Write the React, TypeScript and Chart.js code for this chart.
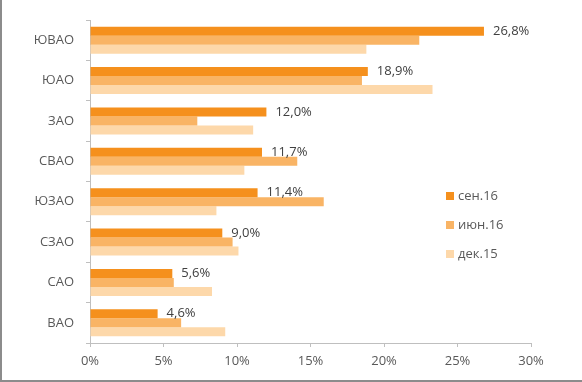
import React, { useEffect, useRef } from "react";
import { Chart, registerables } from "chart.js";

Chart.register(...registerables);

const categories = ["ЮВАО", "ЮАО", "ЗАО", "СВАО", "ЮЗАО", "СЗАО", "САО", "ВАО"];
const seriesLabels = ["сен.16", "июн.16", "дек.15"];
const sep16 = [26.8, 18.9, 12.0, 11.7, 11.4, 9.0, 5.6, 4.6];
const jun16 = [22.4, 18.5, 7.3, 14.1, 15.9, 9.7, 5.7, 6.2];
const dec15 = [18.8, 23.3, 11.1, 10.5, 8.6, 10.1, 8.3, 9.2];
const seriesColors = ["#F5901D", "#F9B465", "#FDD8AA"];

const FONT = "'Open Sans', 'DejaVu Sans', sans-serif";
const TEXT = "#595959";
const AXIS = "#BFBFBF";

const framePlugin = {
  id: "frame",
  beforeDraw(chart: any) {
    const ctx = chart.ctx;
    ctx.save();
    ctx.fillStyle = "#ffffff";
    ctx.fillRect(0, 0, chart.width, chart.height);
    ctx.fillStyle = "#8C8C8C";
    ctx.fillRect(0, 0, 2, chart.height);
    ctx.fillRect(0, chart.height - 2, chart.width, 2);
    ctx.restore();
  },
};

const labelsPlugin = {
  id: "valueLabels",
  afterDatasetsDraw(chart: any) {
    const ctx = chart.ctx;
    const meta = chart.getDatasetMeta(0);
    const data = chart.data.datasets[0].data as number[];
    ctx.save();
    ctx.font = `13px ${FONT}`;
    ctx.fillStyle = "#404040";
    ctx.textAlign = "left";
    ctx.textBaseline = "middle";
    meta.data.forEach((bar: any, i: number) => {
      const txt = data[i].toFixed(1).replace(".", ",") + "%";
      ctx.fillText(txt, bar.x + 9, bar.y);
    });
    ctx.restore();
  },
};

const legendPlugin = {
  id: "customLegend",
  afterDraw(chart: any) {
    const ctx = chart.ctx;
    const x = 446;
    const y0 = 196;
    const step = 29;
    ctx.save();
    ctx.font = `13px ${FONT}`;
    ctx.textAlign = "left";
    ctx.textBaseline = "middle";
    chart.data.datasets.forEach((ds: any, i: number) => {
      const y = y0 + i * step;
      ctx.fillStyle = ds.backgroundColor;
      ctx.fillRect(x, y - 4, 8, 8);
      ctx.fillStyle = TEXT;
      ctx.fillText(ds.label, x + 12, y);
    });
    ctx.restore();
  },
};

export default function App() {
  const ref = useRef<HTMLCanvasElement | null>(null);
  useEffect(() => {
    if (!ref.current) return;
    const chart = new Chart(ref.current, {
      type: "bar",
      data: {
        labels: categories,
        datasets: [
          { label: seriesLabels[0], data: sep16, backgroundColor: seriesColors[0] },
          { label: seriesLabels[1], data: jun16, backgroundColor: seriesColors[1] },
          { label: seriesLabels[2], data: dec15, backgroundColor: seriesColors[2] },
        ],
      },
      options: {
        indexAxis: "y",
        responsive: false,
        animation: false,
        devicePixelRatio: 1,
        layout: { padding: { top: 20, right: 51, left: 0, bottom: 0 } },
        datasets: { bar: { categoryPercentage: 0.67, barPercentage: 1.0 } },
        plugins: { legend: { display: false }, tooltip: { enabled: false } },
        scales: {
          x: {
            min: 0,
            max: 30,
            ticks: {
              stepSize: 5,
              callback: (v: any) => `${v}%`,
              color: TEXT,
              font: { family: FONT, size: 13 },
              padding: 6,
            },
            grid: { drawOnChartArea: false, drawTicks: true, tickLength: 4, color: AXIS },
            border: { display: true, color: AXIS },
            afterFit: (s: any) => {
              s.height = 39;
            },
          },
          y: {
            ticks: {
              color: TEXT,
              font: { family: FONT, size: 13 },
              padding: 12,
            },
            grid: { drawOnChartArea: false, drawTicks: true, tickLength: 4, color: AXIS },
            border: { display: true, color: AXIS },
            afterFit: (s: any) => {
              s.width = 90;
            },
          },
        },
      } as any,
      plugins: [framePlugin, labelsPlugin, legendPlugin],
    });
    return () => chart.destroy();
  }, []);
  return (
    <div style={{ position: "fixed", left: 0, top: 0, width: 582, height: 382 }}>
      <canvas ref={ref} width={582} height={382} style={{ display: "block" }} />
    </div>
  );
}
